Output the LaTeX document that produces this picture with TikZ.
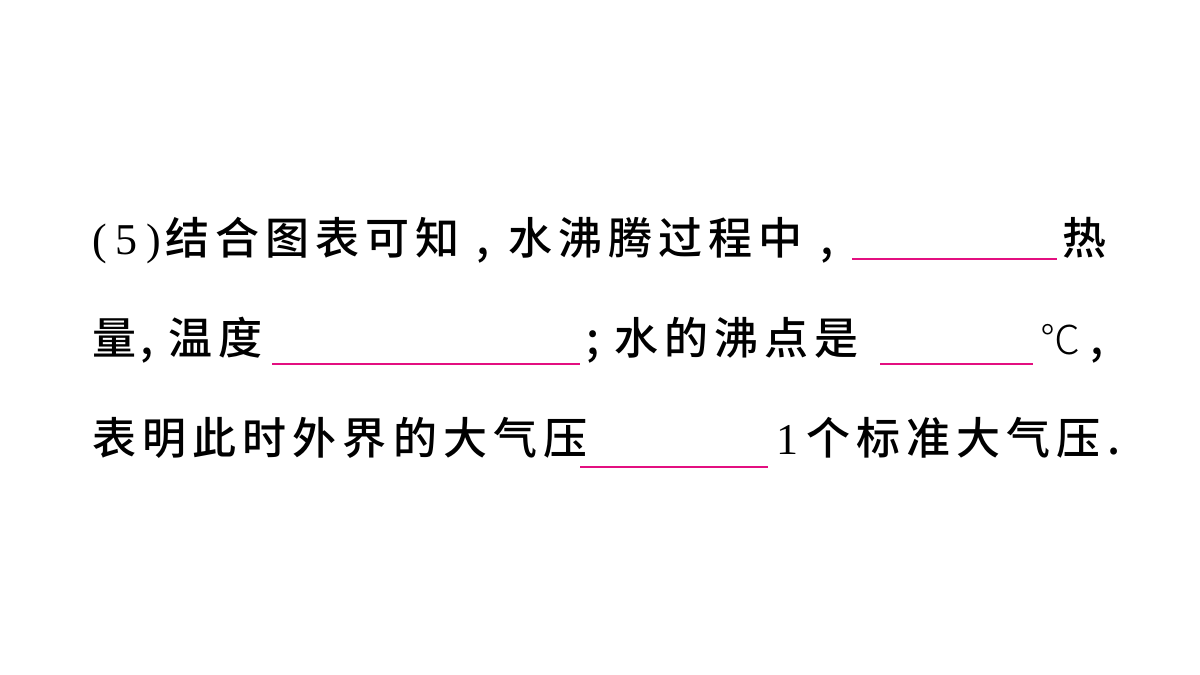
\documentclass[tikz,border=0pt]{standalone}
\usepackage{fontspec}
\newfontfamily\cjk[LetterSpace=14]{Noto Sans CJK SC Medium}
\newfontfamily\cjkl{Noto Sans CJK SC Light}
\newfontfamily\lat[LetterSpace=20]{Liberation Serif}
\begin{document}
\begin{tikzpicture}[x=1pt,y=1pt,
  t/.style={anchor=base west,inner sep=0pt,font=\fontsize{44}{44}\cjk},
  d/.style={anchor=base west,inner sep=0pt,font=\fontsize{44}{44}\lat},
  ul/.style={draw=magenta!80!purple,line width=1.2pt}]
\useasboundingbox[fill=white] (0,0) rectangle (1200,675);
% line 1
\node[d] (a1) at (92,420) {(5)};
\node[t] (a2) at (165,420) {结合图表可知};
\node[t] (a3) at (476,420) {,};
\node[t] (a4) at (508,420) {水沸腾过程中};
\node[t] (a5) at (820,420) {,};
\coordinate (u1a) at (852,416); \coordinate (u1b) at (1057,416);
\draw[ul] (u1a) -- (u1b);
\node[t] (a6) at (1062,420) {热};
% line 2
\node[t] (b1) at (92,320) {量};
\node[t] (b2) at (140,320) {,};
\node[t] (b3) at (168,320) {温度};
\coordinate (u2a) at (272,311); \coordinate (u2b) at (580,311);
\draw[ul] (u2a) -- (u2b);
\node[t] (b4) at (586,320) {;};
\node[t] (b5) at (614,320) {水的沸点是};
\coordinate (u3a) at (880,311); \coordinate (u3b) at (1033,311);
\draw[ul] (u3a) -- (u3b);
\node[anchor=base west,inner sep=0pt,font=\fontsize{40}{40}\cjkl] (b6) at (1040,320) {℃};
\node[t] (b7) at (1090,320) {,};
% line 3
\node[t] (c1) at (92,220) {表明此时外界的大气压};
\coordinate (u4a) at (580,208); \coordinate (u4b) at (768,208);
\draw[ul] (u4a) -- (u4b);
\node[d] (c2) at (776,220) {1};
\node[t] (c3) at (806,220) {个标准大气压.};
\end{tikzpicture}
\end{document}
